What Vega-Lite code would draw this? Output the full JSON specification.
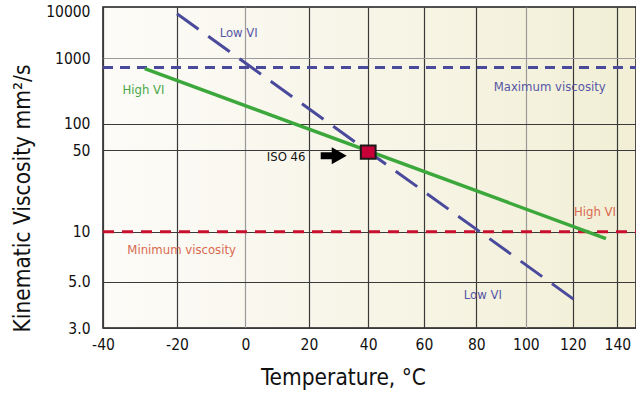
{
  "$schema": "https://vega.github.io/schema/vega-lite/v6.json",
  "width": 533,
  "height": 321,
  "autosize": {"type": "none"},
  "padding": {"left": 103, "top": 7, "right": 0, "bottom": 65},
  "background": "#ffffff",
  "config": {
    "view": {
      "fill": {"gradient": "linear", "x1": 0, "y1": 0, "x2": 1, "y2": 0,
        "stops": [{"offset": 0, "color": "#fcfbf8"}, {"offset": 1, "color": "#f2efd6"}]},
      "stroke": "#1a1a1a",
      "strokeWidth": 1.5
    },
    "font": "DejaVu Sans Condensed, sans-serif"
  },
  "data": {
    "values": [
      {"kind": "dash", "series": "max", "temp": -40, "visc": 685},
      {"kind": "dash", "series": "max", "temp": 148.7, "visc": 685},
      {"kind": "dash", "series": "min", "temp": -40, "visc": 10},
      {"kind": "dash", "series": "min", "temp": 148.7, "visc": 10},
      {"kind": "dash", "series": "lowvi", "temp": -20, "visc": 9016},
      {"kind": "dash", "series": "lowvi", "temp": 122.7, "visc": 3.9},
      {"kind": "solid", "series": "highvi", "temp": -28.9, "visc": 655},
      {"kind": "solid", "series": "highvi", "temp": 134.8, "visc": 9.0},
      {"kind": "iso", "temp": 40, "visc": 47.5},
      {"kind": "arrow", "temp": 28.2, "visc": 43.5},
      {"kind": "text", "note": "lowvi_top", "label": "Low VI", "temp": -7.7, "visc": 3288},
      {"kind": "text", "note": "highvi_top", "label": "High VI", "temp": -34.9, "visc": 290},
      {"kind": "text", "note": "max", "label": "Maximum viscosity", "temp": 86.9, "visc": 322},
      {"kind": "text", "note": "iso", "label": "ISO 46", "temp": 6.6, "visc": 41.9},
      {"kind": "text", "note": "min", "label": "Minimum viscosity", "temp": -33.6, "visc": 7.64},
      {"kind": "text", "note": "highvi_bot", "label": "High VI", "temp": 120.5, "visc": 13.75},
      {"kind": "text", "note": "lowvi_bot", "label": "Low VI", "temp": 75.1, "visc": 4.27}
    ]
  },
  "transform": [
    {"calculate": "datum.temp + 273.15", "as": "K"},
    {"calculate": "log(datum.visc + 0.7) / LN10", "as": "lv"}
  ],
  "resolve": {"scale": {"color": "independent", "strokeDash": "independent", "strokeWidth": "independent"}},
  "encoding": {
    "x": {
      "field": "K", "type": "quantitative",
      "scale": {"type": "log", "domain": [233.15, 421.8], "nice": false, "zero": false},
      "axis": {
        "values": [233.15, 253.15, 273.15, 293.15, 313.15, 333.15, 353.15, 373.15, 393.15, 413.15],
        "labelExpr": "'' + round(datum.value - 273.15)",
        "title": "Temperature, °C",
        "grid": true,
        "gridColor": {"condition": {"test": "abs(datum.value-273.15)<1 || abs(datum.value-373.15)<1", "value": "#9a9a9a"}, "value": "#3a3a3a"},
        "gridWidth": 1.2,
        "ticks": false,
        "domain": false,
        "labelFontSize": 15.5,
        "labelColor": "#111111",
        "labelPadding": 9,
        "labelOverlap": false,
        "labelBound": false,
        "labelFlush": false,
        "titleFontSize": 22.5,
        "titleFontWeight": "normal",
        "titleColor": "#111111",
        "titleX": 240,
        "titleY": 49,
        "titleBaseline": "middle"
      }
    },
    "y": {
      "field": "lv", "type": "quantitative",
      "scale": {"type": "log", "domain": [0.568202, 4.1223], "nice": false, "zero": false},
      "axis": {
        "values": [0.568202, 0.755875, 1.029384, 1.705008, 2.003029, 3.000304, 4.00003],
        "labelExpr": "round(pow(10, datum.value) - 0.7) < 10 ? format(round(pow(10, datum.value) - 0.7), '.1f') : '' + round(pow(10, datum.value) - 0.7)",
        "title": "Kinematic Viscosity mm²/s",
        "grid": true,
        "gridOpacity": {"condition": {"test": "datum.value > 3.9", "value": 0}, "value": 1},
        "gridColor": {"condition": {"test": "abs(datum.value - 3.0003) < 0.01", "value": "#9a9a9a"}, "value": "#3a3a3a"},
        "gridWidth": 1.2,
        "ticks": false,
        "domain": false,
        "labelFontSize": 15.5,
        "labelColor": "#111111",
        "labelPadding": 13,
        "labelOverlap": false,
        "labelBound": false,
        "labelFlush": false,
        "titleFontSize": 22.5,
        "titleFontWeight": "normal",
        "titleColor": "#111111",
        "titleX": -81,
        "titleY": 191,
        "titleBaseline": "middle"
      }
    }
  },
  "layer": [
    {
      "transform": [{"filter": "datum.kind == 'dash'"}],
      "mark": {"type": "line", "strokeCap": "butt"},
      "encoding": {
        "color": {"field": "series", "type": "nominal", "legend": null,
          "scale": {"domain": ["max", "min", "lowvi"], "range": ["#4a4a9c", "#c8102e", "#4a4a9c"]}},
        "strokeDash": {"field": "series", "type": "nominal", "legend": null,
          "scale": {"domain": ["max", "min", "lowvi"], "range": [[10, 7], [11, 8], [26.5, 12]]}},
        "strokeWidth": {"field": "series", "type": "nominal", "legend": null,
          "scale": {"domain": ["max", "min", "lowvi"], "range": [3, 3, 3.6]}}
      }
    },
    {
      "transform": [{"filter": "datum.kind == 'solid'"}],
      "mark": {"type": "line", "color": "#3ca83c", "strokeWidth": 3.5},
      "encoding": {}
    },
    {
      "transform": [{"filter": "datum.kind == 'iso'"}],
      "mark": {"type": "point", "shape": "M -1.1 -1 L 1.1 -1 L 1.1 1 L -1.1 1 Z", "filled": true,
        "fill": "#c8003a", "stroke": "#1a1a1a", "strokeWidth": 2, "size": 180, "opacity": 1}
    },
    {
      "transform": [{"filter": "datum.kind == 'arrow'"}],
      "mark": {"type": "point", "shape": "M -1 -0.27 L -0.15 -0.27 L -0.15 -0.65 L 1 0 L -0.15 0.65 L -0.15 0.27 L -1 0.27 Z",
        "filled": true, "color": "#000000", "size": 676, "opacity": 1}
    },
    {
      "transform": [{"filter": "datum.kind == 'text'"}],
      "mark": {"type": "text", "align": "left", "baseline": "middle", "fontSize": 13},
      "encoding": {
        "text": {"field": "label"},
        "color": {"field": "note", "type": "nominal", "legend": null,
          "scale": {"domain": ["lowvi_top", "highvi_top", "max", "iso", "min", "highvi_bot", "lowvi_bot"],
            "range": ["#5656a6", "#48a848", "#5656a6", "#111111", "#d9694f", "#d9694f", "#5656a6"]}}
      }
    }
  ]
}
